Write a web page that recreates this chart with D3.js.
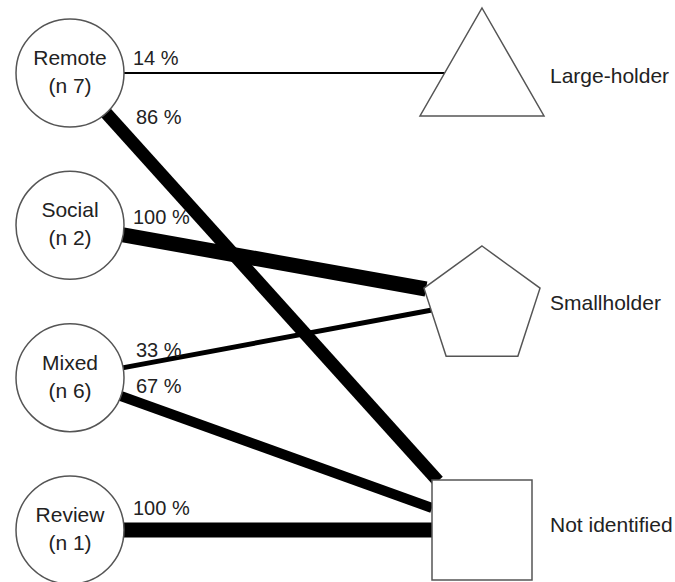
<!DOCTYPE html>
<html><head><meta charset="utf-8">
<script src="https://cdn.jsdelivr.net/npm/d3@7"></script>
<style>body{margin:0;background:#fff}svg{display:block}text{font-family:"Liberation Sans",Arial,sans-serif;fill:#222}</style>
</head><body>
<svg id="chart" width="675" height="582"></svg>
<script>
// ---- data ----
const sources = ["Remote", "Social", "Mixed", "Review"];
const sourceN = [7, 2, 6, 1];
const targets = ["Large-holder", "Smallholder", "Not identified"];
const linkSource = ["Remote", "Remote", "Social", "Mixed", "Mixed", "Review"];
const linkTarget = ["Large-holder", "Not identified", "Smallholder", "Smallholder", "Not identified", "Not identified"];
const linkPct = [14, 86, 100, 33, 67, 100];

// ---- layout ----
const svg = d3.select("#chart");
const xSrc = 70, xTgt = 482, R = 54;
const ySrc = d3.scalePoint().domain(sources).range([73, 530]);
const yTgt = d3.scalePoint().domain(targets).range([80, 530]);
const wScale = d3.scaleLinear().domain([0, 100]).range([0, 15]);

const ports = {
  "Remote|Large-holder": [0, null],
  "Remote|Not identified": [-44, -49],
  "Social|Smallholder": [-56, -16],
  "Mixed|Smallholder": [-50, 5],
  "Mixed|Not identified": [-50, -22],
  "Review|Not identified": [-50, 0]
};
const labelOff = {
  "Remote|Large-holder": [63, -15],
  "Remote|Not identified": [66, 44],
  "Social|Smallholder": [63, -8],
  "Mixed|Smallholder": [66, -28],
  "Mixed|Not identified": [66, 8],
  "Review|Not identified": [63, -22]
};

const links = linkPct.map((p, i) => ({ s: linkSource[i], t: linkTarget[i], p }));

svg.append("g").selectAll("line").data(links).join("line")
  .attr("x1", xSrc)
  .attr("y1", d => ySrc(d.s))
  .attr("x2", d => xTgt + ports[d.s + "|" + d.t][0])
  .attr("y2", d => {
    const o = ports[d.s + "|" + d.t][1];
    return o === null ? ySrc(d.s) : yTgt(d.t) + o;
  })
  .attr("stroke", "#000")
  .attr("stroke-width", d => Math.max(2, wScale(d.p)));

const sg = svg.append("g").selectAll("g").data(sources).join("g")
  .attr("transform", d => `translate(${xSrc},${ySrc(d)})`);
sg.append("circle").attr("r", R).attr("fill", "#fff").attr("stroke", "#555").attr("stroke-width", 1.5);
sg.append("text").attr("text-anchor", "middle").attr("y", -8).attr("font-size", 21).text(d => d);
sg.append("text").attr("text-anchor", "middle").attr("y", 20).attr("font-size", 21)
  .text((d, i) => `(n ${sourceN[i]})`);

const tg = svg.append("g").selectAll("g").data(targets).join("g")
  .attr("transform", d => `translate(${xTgt},${yTgt(d)})`);
tg.each(function (d, i) {
  const g = d3.select(this);
  let path;
  if (i === 0) {
    path = `M0,-72 L62,36 L-62,36 Z`;
  } else if (i === 1) {
    const pts = d3.range(5).map(k => {
      const a = -Math.PI / 2 + k * 2 * Math.PI / 5;
      return [61 * Math.cos(a), 61 * Math.sin(a) + 2];
    });
    path = "M" + pts.map(p => p.join(",")).join("L") + "Z";
  } else {
    path = `M-50,-50 L50,-50 L50,50 L-50,50 Z`;
  }
  g.append("path").attr("d", path).attr("fill", "#fff").attr("stroke", "#555").attr("stroke-width", 1.5);
});
svg.append("g").selectAll("text").data(targets).join("text")
  .attr("x", 550)
  .attr("y", (d, i) => yTgt(d) + [-4, -2, -5][i])
  .attr("dy", "0.35em")
  .attr("font-size", 21)
  .text(d => d);

svg.append("g").selectAll("text").data(links).join("text")
  .attr("x", d => xSrc + labelOff[d.s + "|" + d.t][0])
  .attr("y", d => ySrc(d.s) + labelOff[d.s + "|" + d.t][1])
  .attr("dy", "0.35em")
  .attr("font-size", 20)
  .text(d => `${d.p} %`);
</script>
</body></html>
